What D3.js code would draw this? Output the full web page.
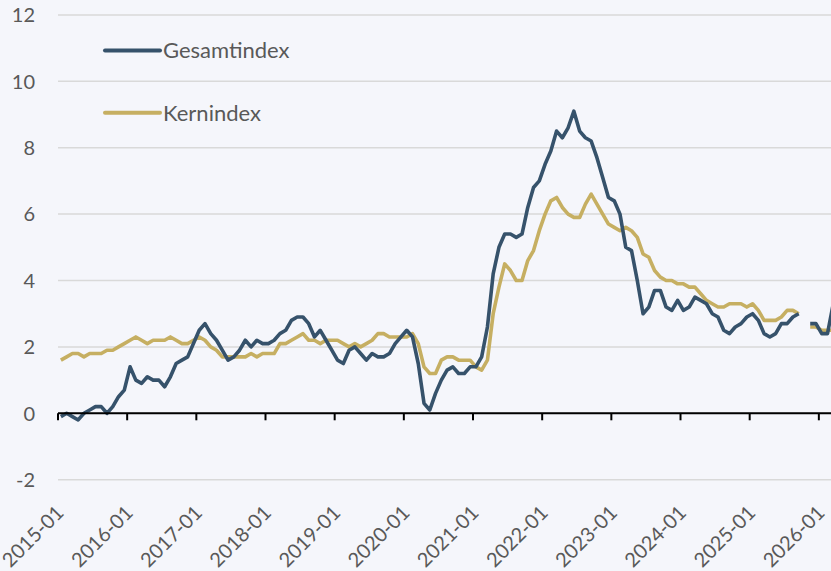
<!DOCTYPE html>
<meta charset="utf-8">
<style>

body {
	margin: 0;
	background: #f5f6fb;
}

svg {
	display: block;
	background: #f5f6fb;
}

text {
	font-family: Lato, "Open Sans", sans-serif;
	fill: #595959;
}

</style>
<svg width="831" height="571"></svg>
<script src="https://d3js.org/d3.v7.min.js"></script>
<script>

// monthly values, 2015-01 .. 2026-03 (2025-10 missing)
var firstYear = 2015

var gesamtindex = [
	-0.1, 0.0, -0.1, -0.2, 0.0, 0.1, 0.2, 0.2, 0.0, 0.2, 0.5, 0.7,
	1.4, 1.0, 0.9, 1.1, 1.0, 1.0, 0.8, 1.1, 1.5, 1.6, 1.7, 2.1,
	2.5, 2.7, 2.4, 2.2, 1.9, 1.6, 1.7, 1.9, 2.2, 2.0, 2.2, 2.1,
	2.1, 2.2, 2.4, 2.5, 2.8, 2.9, 2.9, 2.7, 2.3, 2.5, 2.2, 1.9,
	1.6, 1.5, 1.9, 2.0, 1.8, 1.6, 1.8, 1.7, 1.7, 1.8, 2.1, 2.3,
	2.5, 2.3, 1.5, 0.3, 0.1, 0.6, 1.0, 1.3, 1.4, 1.2, 1.2, 1.4,
	1.4, 1.7, 2.6, 4.2, 5.0, 5.4, 5.4, 5.3, 5.4, 6.2, 6.8, 7.0,
	7.5, 7.9, 8.5, 8.3, 8.6, 9.1, 8.5, 8.3, 8.2, 7.7, 7.1, 6.5,
	6.4, 6.0, 5.0, 4.9, 4.0, 3.0, 3.2, 3.7, 3.7, 3.2, 3.1, 3.4,
	3.1, 3.2, 3.5, 3.4, 3.3, 3.0, 2.9, 2.5, 2.4, 2.6, 2.7, 2.9,
	3.0, 2.8, 2.4, 2.3, 2.4, 2.7, 2.7, 2.9, 3.0, null, 2.7, 2.7,
	2.4, 2.4, 3.3
]

var kernindex = [
	1.6, 1.7, 1.8, 1.8, 1.7, 1.8, 1.8, 1.8, 1.9, 1.9, 2.0, 2.1,
	2.2, 2.3, 2.2, 2.1, 2.2, 2.2, 2.2, 2.3, 2.2, 2.1, 2.1, 2.2,
	2.3, 2.2, 2.0, 1.9, 1.7, 1.7, 1.7, 1.7, 1.7, 1.8, 1.7, 1.8,
	1.8, 1.8, 2.1, 2.1, 2.2, 2.3, 2.4, 2.2, 2.2, 2.1, 2.2, 2.2,
	2.2, 2.1, 2.0, 2.1, 2.0, 2.1, 2.2, 2.4, 2.4, 2.3, 2.3, 2.3,
	2.3, 2.4, 2.1, 1.4, 1.2, 1.2, 1.6, 1.7, 1.7, 1.6, 1.6, 1.6,
	1.4, 1.3, 1.6, 3.0, 3.8, 4.5, 4.3, 4.0, 4.0, 4.6, 4.9, 5.5,
	6.0, 6.4, 6.5, 6.2, 6.0, 5.9, 5.9, 6.3, 6.6, 6.3, 6.0, 5.7,
	5.6, 5.5, 5.6, 5.5, 5.3, 4.8, 4.7, 4.3, 4.1, 4.0, 4.0, 3.9,
	3.9, 3.8, 3.8, 3.6, 3.4, 3.3, 3.2, 3.2, 3.3, 3.3, 3.3, 3.2,
	3.3, 3.1, 2.8, 2.8, 2.8, 2.9, 3.1, 3.1, 3.0, null, 2.6, 2.6,
	2.5, 2.5, 2.5
]

var yTicks = [-2, 0, 2, 4, 6, 8, 10, 12]

var seriesNames = ["Gesamtindex", "Kernindex"]
var seriesColours = ["#36526b", "#c6af62"]

// category labels "YYYY-MM"
var months = []
for (var i = 0; i < gesamtindex.length; i++) {
	var yr = firstYear + Math.floor(i / 12)
	var mo = (i % 12) + 1
	months.push(yr + "-" + (mo < 10 ? "0" + mo : mo))
}

var svg = d3.select("svg")

// category axis: points sit in the middle of each month slot
var slot = 5.764
var x = d3.scaleLinear()
	.domain([0, months.length])
	.range([58, 58 + months.length * slot])

var y = d3.scaleLinear()
	.domain([-2, 12])
	.range([479.7, 14.9])

// gridlines
svg.append("g")
	.selectAll("line")
	.data(yTicks)
	.enter().append("line")
	.attr("x1", 58)
	.attr("x2", 831)
	.attr("y1", function (d) { return y(d) })
	.attr("y2", function (d) { return y(d) })
	.attr("stroke", "#d9d9d9")
	.attr("stroke-width", 1.5)

// y labels
svg.append("g")
	.selectAll("text")
	.data(yTicks)
	.enter().append("text")
	.attr("x", 35)
	.attr("y", function (d) { return y(d) })
	.attr("dy", "0.36em")
	.attr("text-anchor", "end")
	.style("font-size", "20px")
	.text(function (d) { return d })

// lines
var line = d3.line()
	.defined(function (d) { return d != null })
	.x(function (d, i) { return x(i + 0.5) })
	.y(function (d) { return y(d) })

var allSeries = [gesamtindex, kernindex]

svg.append("g")
	.selectAll("path")
	.data(allSeries.slice().reverse())
	.enter().append("path")
	.attr("d", line)
	.attr("fill", "none")
	.attr("stroke", function (d, i) { return seriesColours[1 - i] })
	.attr("stroke-width", 3.6)
	.attr("stroke-linejoin", "round")

// x axis at zero
var yearStarts = months
	.map(function (m, i) { return i })
	.filter(function (i) { return months[i].slice(5) === "01" })

svg.append("line")
	.attr("x1", 58)
	.attr("x2", 831)
	.attr("y1", y(0))
	.attr("y2", y(0))
	.attr("stroke", "#000")
	.attr("stroke-width", 2)

svg.append("g")
	.selectAll("line")
	.data(yearStarts)
	.enter().append("line")
	.attr("x1", function (i) { return x(i) })
	.attr("x2", function (i) { return x(i) })
	.attr("y1", y(0))
	.attr("y2", y(0) + 7)
	.attr("stroke", "#000")
	.attr("stroke-width", 2)

// rotated month labels, low position
svg.append("g")
	.selectAll("text")
	.data(yearStarts)
	.enter().append("text")
	.attr("transform", function (i) { return "translate(" + (x(i) + 7) + ",514) rotate(-45)" })
	.attr("text-anchor", "end")
	.style("font-size", "20px")
	.text(function (i) { return months[i] })

// legend
var legend = svg.append("g")
	.selectAll("g")
	.data(seriesNames)
	.enter().append("g")
	.attr("transform", function (d, i) { return "translate(105," + (50.5 + i * 62.2) + ")" })

legend.append("line")
	.attr("x1", 0)
	.attr("x2", 55)
	.attr("stroke", function (d, i) { return seriesColours[i] })
	.attr("stroke-width", 4)
	.attr("stroke-linecap", "round")

legend.append("text")
	.attr("x", 58)
	.attr("dy", "0.36em")
	.style("font-size", "22px")
	.text(function (d) { return d })

</script>
